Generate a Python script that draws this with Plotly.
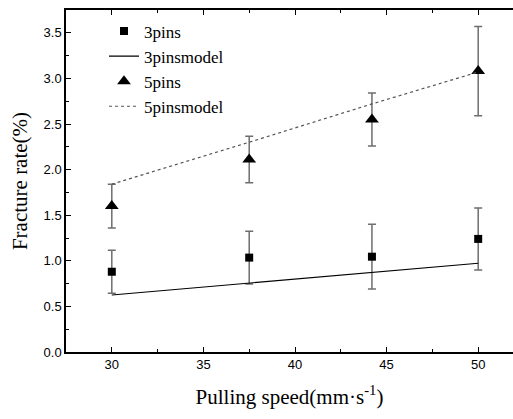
import plotly.graph_objects as go

speed = [30, 37.5, 44.2, 50]
pins3 = [0.88, 1.035, 1.045, 1.24]
pins3_err = [0.235, 0.29, 0.355, 0.34]
pins3_model = [0.625, 0.755, 0.87, 0.973]
pins5 = [1.60, 2.11, 2.55, 3.08]
pins5_err = [0.24, 0.255, 0.29, 0.49]
pins5_model = [1.84, 2.30, 2.72, 3.07]

serif = "Liberation Serif, Times New Roman, serif"
sans = "Liberation Sans, Arial, sans-serif"
errc = "#6e6e6e"

fig = go.Figure()
fig.add_trace(go.Scatter(x=speed, y=pins3, mode="markers", name="3pins",
                         marker=dict(symbol="square", size=8, color="black"),
                         error_y=dict(type="data", array=pins3_err, color=errc, thickness=1.5, width=4)))
fig.add_trace(go.Scatter(x=speed, y=pins3_model, mode="lines", name="3pinsmodel",
                         line=dict(color="black", width=1.2)))
fig.add_trace(go.Scatter(x=speed, y=pins5, mode="markers", name="5pins",
                         marker=dict(symbol="triangle-up", size=12, color="black"),
                         error_y=dict(type="data", array=pins5_err, color=errc, thickness=1.5, width=4)))
fig.add_trace(go.Scatter(x=speed, y=pins5_model, mode="lines", name="5pinsmodel",
                         line=dict(color="#555555", width=1.2, dash="dot")))

fig.update_layout(
    width=513, height=419,
    margin=dict(l=66, r=0, t=10, b=67),
    paper_bgcolor="white", plot_bgcolor="white",
    showlegend=True,
    legend=dict(x=0.085, y=0.99, xanchor="left", yanchor="top",
                font=dict(family=serif, size=17, color="black"),
                bgcolor="rgba(0,0,0,0)", tracegroupgap=0, itemwidth=30),
    xaxis=dict(range=[27.5, 51.9], tickvals=[30, 35, 40, 45, 50],
               ticks="inside", ticklen=5, tickwidth=1, tickcolor="black",
               minor=dict(tickvals=[32.5, 37.5, 42.5, 47.5], ticks="inside", ticklen=3, tickcolor="black"),
               showline=True, linecolor="black", linewidth=1.5, mirror="ticks",
               showgrid=False, zeroline=False,
               tickfont=dict(family=sans, size=13, color="black"),
               title=dict(text="Pulling speed(mm·s<sup>-1</sup>)", font=dict(family=serif, size=21, color="black"), standoff=18)),
    yaxis=dict(range=[0, 3.75], tickvals=[0, 0.5, 1, 1.5, 2, 2.5, 3, 3.5],
               ticktext=["0.0", "0.5", "1.0", "1.5", "2.0", "2.5", "3.0", "3.5"],
               ticks="inside", ticklen=5, tickwidth=1, tickcolor="black",
               minor=dict(tickvals=[0.25, 0.75, 1.25, 1.75, 2.25, 2.75, 3.25], ticks="inside", ticklen=3, tickcolor="black"),
               showline=True, linecolor="black", linewidth=1.5, mirror=False,
               showgrid=False, zeroline=False,
               tickfont=dict(family=sans, size=13, color="black"),
               title=dict(text="Fracture rate(%)", font=dict(family=serif, size=21, color="black"), standoff=10)),
)

fig.write_html("out.html")
